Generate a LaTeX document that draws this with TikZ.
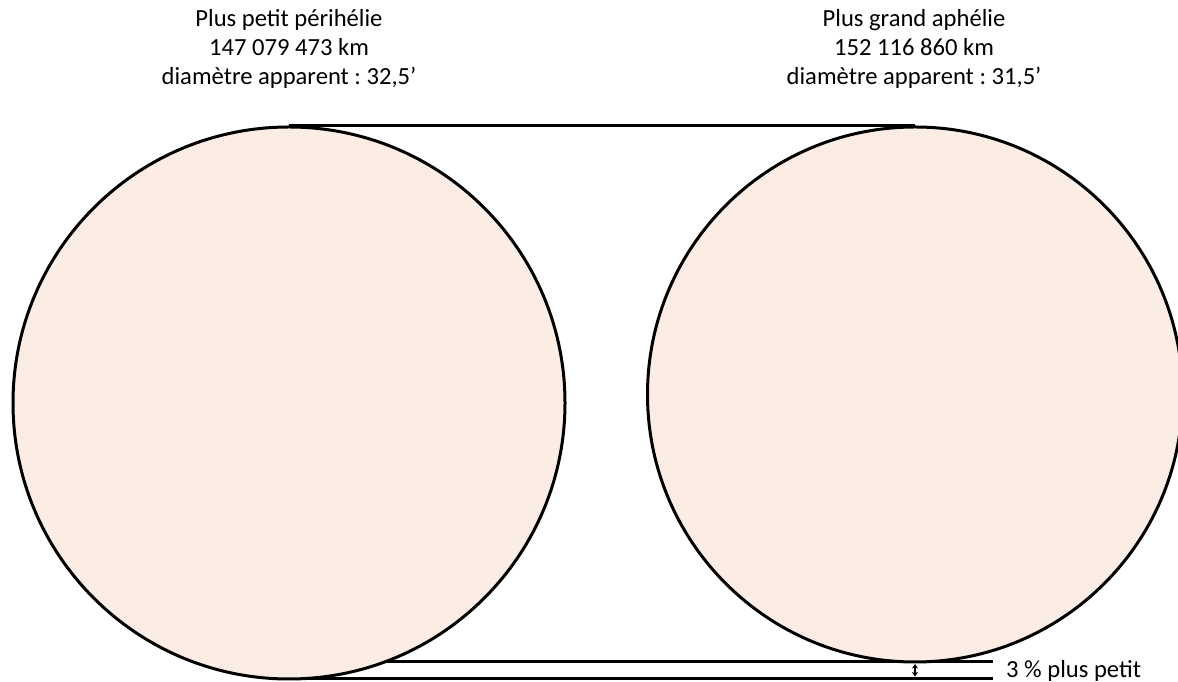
\documentclass[tikz,border=0pt]{standalone}
\usepackage{fontspec}
\setmainfont{Carlito}
\usetikzlibrary{arrows.meta}
\definecolor{sunfill}{RGB}{251,237,228}
\frenchspacing
\begin{document}
\begin{tikzpicture}[x=1pt,y=1pt,
  sun/.style={circle,draw=black,line width=3pt,fill=sunfill,inner sep=0pt},
  edge/.style={draw=black,line width=3pt},
  lbl/.style={align=center,font=\fontsize{24.6}{29}\selectfont,inner sep=0pt}]
\useasboundingbox (0,0) rectangle (1178,682);
\fill[white] (0,0) rectangle (1178,682);
\coordinate (Lc) at (289,279);
\coordinate (Rc) at (915,287.5);
\coordinate (e1) at (993,20);
\coordinate (e2) at (993,3.5);
\coordinate (s1) at (289,20);
\coordinate (s2) at (289,3.5);
\draw[edge] (s1) -- (e1);
\draw[edge] (s2) -- (e2);
\node[sun,minimum size=552pt] (L) at (Lc) {};
\node[sun,minimum size=535pt] (R) at (Rc) {};
\draw[edge] (L.north) -- (R.north);
\coordinate (a1) at (915,18);
\coordinate (a2) at (915,5.5);
\draw[line width=1.5pt,{Stealth[length=4.5pt,width=6pt]}-{Stealth[length=4.5pt,width=6pt]}] (a1) -- (a2);
\node[lbl] (tl) at (289,633) {Plus petit périhélie\\147 079 473 km\\diamètre apparent : 32,5’};
\node[lbl] (tr) at (914,633) {Plus grand aphélie\\152 116 860 km\\diamètre apparent : 31,5’};
\node[lbl,anchor=west] (pc) at (1006,11.5) {3 \% plus petit};
\end{tikzpicture}
\end{document}
